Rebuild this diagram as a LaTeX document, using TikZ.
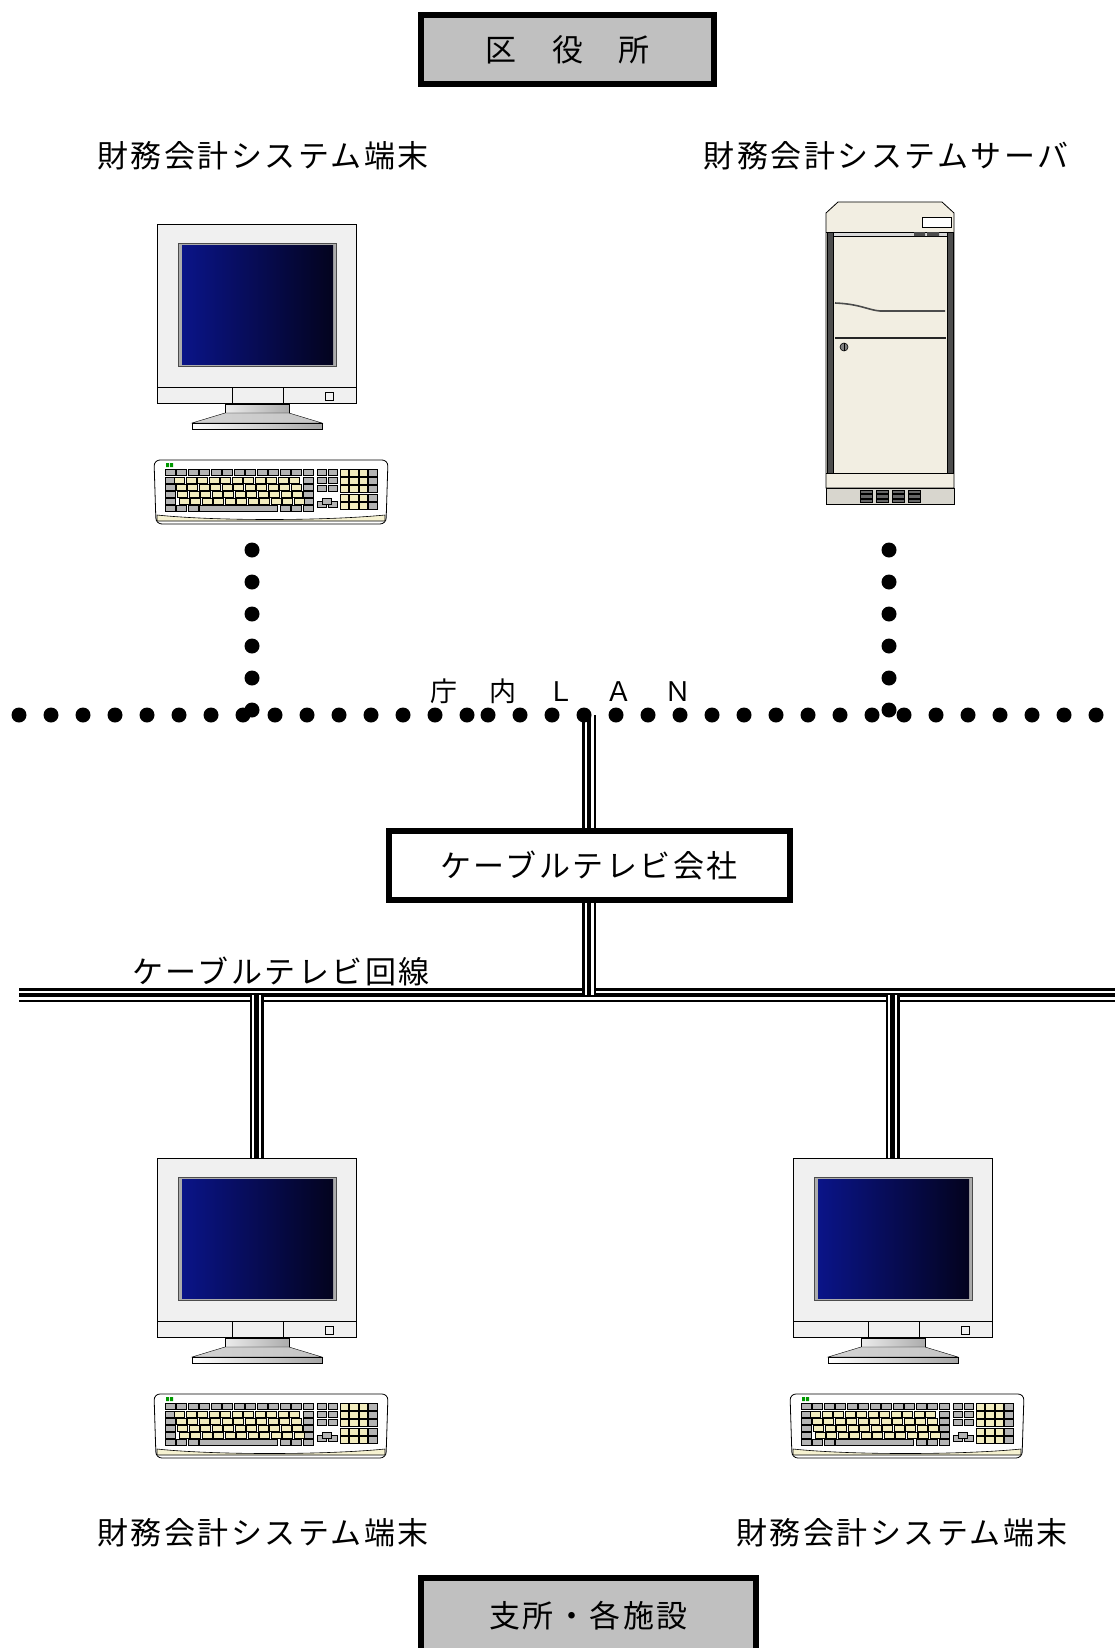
\documentclass[tikz,border=0pt]{standalone}
\usepackage{fontspec}
\newfontfamily\jp[LetterSpace=8]{Noto Sans CJK JP}

\definecolor{boxgray}{HTML}{C0C0C0}
\definecolor{bezel}{HTML}{F0F0F0}
\definecolor{scrlight}{HTML}{0A1488}
\definecolor{scrdark}{HTML}{03031E}
\definecolor{keycream}{HTML}{F2ECBE}
\definecolor{keygray}{HTML}{B4B4B4}
\definecolor{srvcream}{HTML}{F2EEE2}
\definecolor{srvvent}{HTML}{D8D6CE}

\tikzset{
	jptext/.style={font=\jp\fontsize{31}{36}\selectfont, inner sep=0pt},
	sitebox/.style={draw, line width=6pt, fill=boxgray, jptext},
	landots/.style={line width=15pt, line cap=round, dash pattern=on 0pt off 32pt},
	cable/.style={line width=14pt,
		postaction={draw=white, line width=9pt},
		postaction={draw=black, line width=4.5pt}},
	key/.style={fill=keygray, draw=black, line width=0.9pt},
	ckey/.style={key, fill=keycream},
	pics/terminal/.style={code={
		% monitor
		\node [minimum width=199pt, minimum height=179pt, inner sep=0pt] (-body) at (99.5,89.5) {};
		\draw [fill=bezel, line width=0.8pt] (0,0) rectangle (199,179);
		\draw [line width=0.8pt] (0,163) -- (199,163) (75,163) -- (75,179) (126,163) -- (126,179);
		\draw [line width=0.8pt] (168,168) rectangle (176,176);
		\draw [fill=gray!65, draw=black!70] (21,19) rectangle (179,142);
		\shade [left color=scrlight, right color=scrdark] (25,21) rectangle (176,140);
		\shade [draw, left color=gray!15, right color=gray!65] (68,180) rectangle (132,189);
		\shade [draw, left color=gray!35, right color=gray!45] (68,189) -- (132,189) -- (165,199) -- (35,199) -- cycle;
		\shade [draw, left color=white, right color=gray!70] (35,199) rectangle (165,205);
		% keyboard
		\begin{scope}[shift={(-3,236)}]
			\draw [fill=white, line width=0.8pt, rounded corners=6pt] (0,0) -- (234,0) -- (232,64) -- (2,64) -- cycle;
			\draw [fill=keycream!70, line width=0.6pt] (3,55) .. controls (60,61) and (170,61) .. (231,55) -- (231,61) -- (3,61) -- cycle;
			\fill [green!60!black] (12,3) rectangle (15,7) (16,3) rectangle (19,7);
			\foreach \c in {0,...,12}
				\draw [key] (11+11.5*\c,9) rectangle ++(10,6.5);
			\foreach \r in {0,...,3} {
				\foreach \c in {0,12}
					\draw [key] (11+11.5*\c,17+7*\r) rectangle ++(10,6.5);
				\foreach \c in {1,...,11}
					\draw [ckey] (9+11.5*\c+1.5*\r,17+7*\r) rectangle ++(10,6.5);
			}
			\foreach \c in {0,1,2,10,11,12}
				\draw [key] (11+11.5*\c,45) rectangle ++(10,6.5);
			\draw [key] (45.5,45) rectangle (123.5,51.5);
			\foreach \r in {0,1,2,4}
				\foreach \c in {0,1}
					\draw [key] (163.5+10.5*\c,9+8*\r) rectangle ++(9,6.5);
			\draw [key] (168.5,38) rectangle ++(9,6.5);
			\foreach \r in {0,...,4} {
				\foreach \c in {0,1,2}
					\draw [ckey] (186+9.5*\c,9+8.4*\r) rectangle ++(8.5,7);
				\draw [key] (214.5,9+8.4*\r) rectangle ++(8.5,7);
			}
		\end{scope}
	}}
}

\begin{document}
\begin{tikzpicture}[x=1pt, y=-1pt]
	\path [use as bounding box, fill=white] (0,0) rectangle (1115,1648);

	\coordinate (lanW) at (19,715);
	\coordinate (lanWend) at (468,715);
	\coordinate (lanEstart) at (488,715);
	\coordinate (lanE) at (1097,715);
	\coordinate (lanC) at (589,715);
	\coordinate (dropL) at (252,550);
	\coordinate (dropLend) at (252,711);
	\coordinate (dropR) at (889,550);
	\coordinate (dropRend) at (889,711);
	\coordinate (cabW) at (19,995);
	\coordinate (cabE) at (1115,995);

	% sites
	\node [sitebox, minimum width=293pt, minimum height=69pt] (kuyakusho) at (567.5,49.5) {区　役　所};
	\node [sitebox, minimum width=335pt, minimum height=76pt] (shisho) at (588.5,1616) {支所・各施設};
	\node [sitebox, fill=white, minimum width=401pt, minimum height=69pt] (catv) at (589,865.5) {ケーブルテレビ会社};

	\node [jptext] (tlLabel) at (263,156) {財務会計システム端末};
	\node [jptext] (srvLabel) at (886,156) {財務会計システムサーバ};
	\node [jptext] (blLabel) at (263,1533) {財務会計システム端末};
	\node [jptext] (brLabel) at (902,1533) {財務会計システム端末};
	\node [jptext] (cabLabel) at (281,971) {ケーブルテレビ回線};
	\node [jptext, font=\jp\fontsize{27}{32}\selectfont] (lanLabel) at (561,691) {庁　内　Ｌ　Ａ　Ｎ};

	% terminals
	\pic (tl) at (157,224) {terminal};
	\pic (bl) at (157,1158) {terminal};
	\pic (br) at (793,1158) {terminal};

	% server
	\node [minimum width=128pt, minimum height=302pt, inner sep=0pt] (srv) at (890,353) {};
	\draw [fill=srvcream, line width=0.8pt] (838,202) -- (942,202) -- (954,213) -- (954,488) -- (826,488) -- (826,213) -- cycle;
	\draw [line width=0.8pt] (826,232) -- (954,232) (826,473) -- (954,473);
	\draw [fill=white, line width=0.8pt] (922,217) rectangle (951,227);
	\draw [fill=black!70] (827,232) rectangle (833,473) (947,232) rectangle (953,473);
	\draw [fill=gray!30, line width=0.5pt] (833,232) rectangle (947,236);
	\fill [black!70] (914,232) rectangle (925,236) (927,232) rectangle (939,236);
	\draw [line width=1.6pt, black!70] (835,303) .. controls (860,304) and (868,310) .. (880,311) -- (945,311);
	\draw [line width=2.5pt, black!85] (835,338) -- (946,338);
	\draw [fill=gray, line width=0.6pt] (844,347) circle (4);
	\draw [line width=0.8pt] (844,343) -- (844,351);
	\draw [fill=srvvent, line width=0.8pt] (826,488) rectangle (954,504);
	\foreach \x in {860,876,892,908}
		\foreach \y in {490,494.5,499}
			\draw [fill=black!60, line width=0.4pt] (\x,\y) rectangle ++(12,3.5);

	% catv line
	\draw [cable] (cabW) -- (cabE);
	\draw [cable] (lanC) -- (catv.north);
	\draw [cable] (catv.south) -- (catv.south |- cabW);
	\draw [cable] (bl-body.north |- cabW) -- (bl-body.north);
	\draw [cable] (br-body.north |- cabW) -- (br-body.north);

	% LAN
	\draw [landots] (lanW) -- (lanWend);
	\draw [landots] (lanEstart) -- (lanE);
	\draw [landots] (dropL) -- (dropLend);
	\draw [landots] (dropR) -- (dropRend);
\end{tikzpicture}
\end{document}
